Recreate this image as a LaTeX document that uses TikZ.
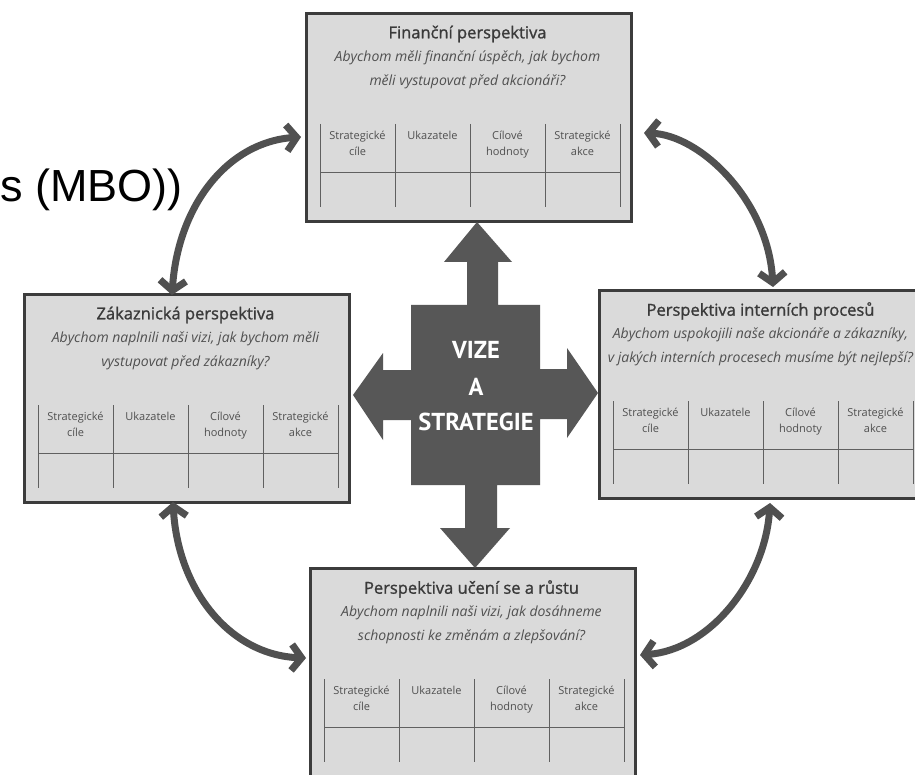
\documentclass[tikz,border=0pt]{standalone}
\usepackage{fontspec}
\setmainfont{Open Sans}
\newfontfamily\titlefont[FakeBold=1.2]{Open Sans}
\newfontfamily\headfont{PT Sans}
\newfontfamily\arialfont{Liberation Sans}
\usetikzlibrary{arrows.meta,calc}

\definecolor{boxfill}{HTML}{DADADA}
\definecolor{boxline}{HTML}{3C3C3C}
\definecolor{arrowgray}{HTML}{505050}
\definecolor{crossgray}{HTML}{575757}
\definecolor{titlegray}{HTML}{3A3A3A}
\definecolor{subgray}{HTML}{505050}
\definecolor{rulegray}{HTML}{606060}

\tikzset{
  persp/.style={rectangle, draw=boxline, line width=3pt, fill=boxfill,
    minimum width=325pt, minimum height=208pt, inner sep=0pt, anchor=north west},
  ptitle/.style={font=\titlefont\fontsize{16.5}{18}\selectfont, text=titlegray, inner sep=0pt},
  psub/.style={font=\itshape\fontsize{14}{16}\selectfont, text=subgray, inner sep=0pt},
  phead/.style={font=\fontsize{11}{16}\selectfont, text=subgray, align=center,
    anchor=north, inner sep=0pt},
  tline/.style={draw=rulegray, line width=0.9pt},
  cycle arrow/.style={draw=arrowgray, line width=7pt, line cap=round, line join=round,
    {Straight Barb[length=10pt,width=26pt]}-{Straight Barb[length=10pt,width=26pt]}},
  vision/.style={font=\headfont\bfseries\fontsize{24.5}{28}\selectfont, text=white, inner sep=0pt},
}

% one perspective card: name, left x, top y, title, question line 1, question line 2
\newcommand\bscbox[6]{%
  \node[persp] (#1) at (#2,#3) {};
  \node[ptitle] (#1-t) at ($(#1.north west)+(162.5,22)$) {#4};
  \node[psub] (#1-q1) at ($(#1.north west)+(162.5,46)$) {#5};
  \node[psub] (#1-q2) at ($(#1.north west)+(162.5,70)$) {#6};
  \foreach \cx in {15,90,165,240,315}
    \draw[tline] ($(#1.north west)+(\cx,112)$) -- ($(#1.north west)+(\cx,195)$);
  \draw[tline] ($(#1.north west)+(15,160)$) -- ($(#1.north west)+(315,160)$);
  \node[phead] (#1-h1) at ($(#1.north west)+(52.5,119)$) {Strategické\\cíle};
  \node[phead] (#1-h2) at ($(#1.north west)+(127.5,119)$) {Ukazatele};
  \node[phead] (#1-h3) at ($(#1.north west)+(202.5,119)$) {Cílové\\hodnoty};
  \node[phead] (#1-h4) at ($(#1.north west)+(277.5,119)$) {Strategické\\akce};
}

\begin{document}
\begin{tikzpicture}[x=1pt, y=-1pt]
  \useasboundingbox (0,0) rectangle (915,775);
  \fill[white] (0,0) rectangle (915,775);
  \clip (0,0) rectangle (915,775);

  % heading fragment on the left
  \node[font=\arialfont\fontsize{45}{50}\selectfont, anchor=base east, inner sep=0pt]
    (mbo) at (183,202) {s (MBO))};

  % the four perspectives
  \bscbox{fin}{305}{12}{Finanční perspektiva}
    {Abychom měli finanční úspěch, jak bychom}{měli vystupovat před akcionáři?}
  \bscbox{zak}{23}{293}{Zákaznická perspektiva}
    {Abychom naplnili naši vizi, jak bychom měli}{vystupovat před zákazníky?}
  \bscbox{int}{598}{289}{Perspektiva interních procesů}
    {Abychom uspokojili naše akcionáře a zákazníky,}{v jakých interních procesech musíme být nejlepší?}
  \bscbox{uc}{309}{567}{Perspektiva učení se a růstu}
    {Abychom naplnili naši vizi, jak dosáhneme}{schopnosti ke změnám a zlepšování?}

  % central four-way arrow
  \fill[crossgray]
    (477,222) -- (512,262) -- (498,262) -- (498,305) -- (540,305) -- (540,369)
    -- (567,369) -- (567,348) -- (598,393) -- (567,438) -- (567,419) -- (540,419)
    -- (540,485) -- (497,485) -- (497,528) -- (510,528) -- (475,568) -- (440,528)
    -- (465,528) -- (465,485) -- (411,485) -- (411,420) -- (383,420) -- (383,440)
    -- (353,395) -- (383,353) -- (383,370) -- (411,370) -- (411,305) -- (467,305)
    -- (467,262) -- (444,262) -- cycle;
  \node[vision] (v1) at (476,350) {VIZE};
  \node[vision] (v2) at (476,387) {A};
  \node[vision] (v3) at (476,422) {STRATEGIE};

  % ends of the curved links, on the card borders
  \coordinate (zakTop) at ($(zak.north west)+(149,2)$);
  \coordinate (zakBot) at ($(zak.south west)+(150,-2)$);
  \coordinate (finL) at ($(fin.north west)+(-4,125)$);
  \coordinate (finR) at ($(fin.north east)+(11,121)$);
  \coordinate (intTop) at ($(int.north west)+(175,-2)$);
  \coordinate (intBot) at ($(int.south west)+(172,3)$);
  \coordinate (ucL) at ($(uc.north west)+(-3,91)$);
  \coordinate (ucR) at ($(uc.north east)+(3,88)$);

  % curved links between the perspectives
  \draw[cycle arrow] (zakTop) .. controls (178,205) and (228,142) .. (finL);
  \draw[cycle arrow] (finR) .. controls (700,135) and (768,200) .. (intTop);
  \draw[cycle arrow] (intBot) .. controls (765,580) and (710,650) .. (ucR);
  \draw[cycle arrow] (zakBot) .. controls (178,590) and (230,655) .. (ucL);
\end{tikzpicture}
\end{document}
